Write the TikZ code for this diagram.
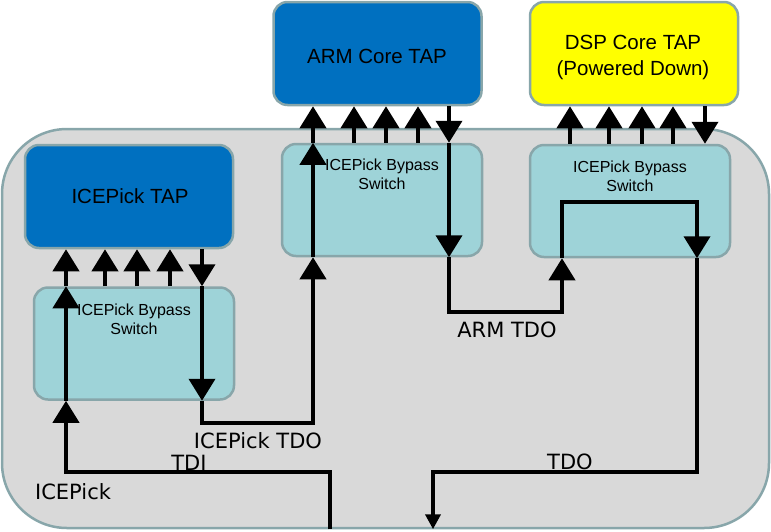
\documentclass[tikz,border=0pt]{standalone}
\usepackage{fontspec}
\setmainfont{Liberation Sans}
\newfontfamily\lblfont{DejaVu Sans}
\usetikzlibrary{arrows.meta}
\definecolor{tapblue}{HTML}{0070C0}
\definecolor{dspyel}{HTML}{FFFF00}
\definecolor{swc}{HTML}{9ED3D8}
\definecolor{bgc}{HTML}{D9D9D9}
\definecolor{edgec}{HTML}{88A6AA}
\tikzset{
 box/.style={draw=edgec, line width=2.5pt, rounded corners=14pt, inner sep=0pt},
 tapbox/.style={box, minimum width=208pt, minimum height=103pt},
 swbox/.style={box, fill=swc, minimum width=200pt, minimum height=112pt},
 arr/.style={line width=4pt, -{Triangle[width=26pt 0 0,length=22pt 0 0]}},
 smallarr/.style={line width=4pt, -{Triangle[width=15pt 0 0,length=15pt 0 0]}},
 lbl/.style={font=\lblfont\fontsize{21}{24}\selectfont, inner sep=0pt, anchor=base},
 titletxt/.style={font=\fontsize{20.5}{24}\selectfont, inner sep=0pt, anchor=base},
 swtxt/.style={font=\fontsize{16}{19}\selectfont, inner sep=0pt, anchor=base},
}
\begin{document}
\begin{tikzpicture}[x=1pt,y=-1pt]
\useasboundingbox (0,0) rectangle (771,531);
% chip background
\node[draw=edgec, fill=bgc, line width=2.5pt, rounded corners=65pt, inner sep=0pt,
      minimum width=767pt, minimum height=399pt] (chip) at (385.5,328.5) {};
% TAPs
\node[tapbox, fill=tapblue] (icetap) at (129,196.5) {};
\node[titletxt] (icetapt) at (130,203) {ICEPick TAP};
\node[tapbox, fill=tapblue] (armtap) at (377.5,53.5) {};
\node[titletxt] (armtapt) at (377,63) {ARM Core TAP};
\node[tapbox, fill=dspyel] (dsptap) at (634,53.5) {};
\node[titletxt] (dsptapt1) at (633,49) {DSP Core TAP};
\node[titletxt] (dsptapt2) at (633,75) {(Powered Down)};
% bypass switches
\node[swbox] (sw1) at (134,343.5) {};
\node[swtxt] (sw1a) at (134,315) {ICEPick Bypass};
\node[swtxt] (sw1b) at (134,334) {Switch};
\node[swbox] (sw2) at (382,200) {};
\node[swtxt] (sw2a) at (382,170) {ICEPick Bypass};
\node[swtxt] (sw2b) at (382,189) {Switch};
\node[swbox] (sw3) at (630,201) {};
\node[swtxt] (sw3a) at (630,172) {ICEPick Bypass};
\node[swtxt] (sw3b) at (630,191) {Switch};
% columns and rows
\foreach \c in {66,105,137,170,202,313,330,354,386,418,433,449,562,570,609,642,673,697,705}
  \coordinate (x\c) at (\c,0);
\coordinate (tdiy) at (0,472);
\coordinate (itdoy) at (0,423);
\coordinate (atdoy) at (0,312);
\coordinate (inny) at (0,202);
\coordinate (tdoy) at (0,472);
% TDI path
\draw[arr] (x330 |- chip.south) -- (x330 |- tdiy) -- (x66 |- tdiy) -- (x66 |- sw1.south);
\draw[arr] (x66 |- sw1.south) -- (x66 |- sw1.north);
\draw[arr] (x66 |- sw1.north) -- (x66 |- icetap.south);
\foreach \c in {x105,x137,x170}
  \draw[arr] (\c |- sw1.north) -- (\c |- icetap.south);
\draw[arr] (x202 |- icetap.south) -- (x202 |- sw1.north);
\draw[arr] (x202 |- sw1.north) -- (x202 |- sw1.south);
% ICEPick TDO
\draw[arr] (x202 |- sw1.south) -- (x202 |- itdoy) -- (x313 |- itdoy) -- (x313 |- sw2.south);
\draw[arr] (x313 |- sw2.south) -- (x313 |- sw2.north);
\draw[arr] (x313 |- sw2.north) -- (x313 |- armtap.south);
\foreach \c in {x354,x386,x418}
  \draw[arr] (\c |- sw2.north) -- (\c |- armtap.south);
\draw[arr] (x449 |- armtap.south) -- (x449 |- sw2.north);
\draw[arr] (x449 |- sw2.north) -- (x449 |- sw2.south);
% ARM TDO
\draw[arr] (x449 |- sw2.south) -- (x449 |- atdoy) -- (x562 |- atdoy) -- (x562 |- sw3.south);
\draw[arr] (x562 |- sw3.south) -- (x562 |- inny) -- (x697 |- inny) -- (x697 |- sw3.south);
\foreach \c in {x570,x609,x642,x673}
  \draw[arr] (\c |- sw3.north) -- (\c |- dsptap.south);
\draw[arr] (x705 |- dsptap.south) -- (x705 |- sw3.north);
% TDO
\draw[smallarr] (x697 |- sw3.south) -- (x697 |- tdoy) -- (x433 |- tdoy) -- (x433 |- chip.south);
% labels
\node[lbl] (l1) at (258,448) {ICEPick TDO};
\node[lbl] (l2) at (189,470) {TDI};
\node[lbl] (l3) at (73,499) {ICEPick};
\node[lbl] (l4) at (570,469) {TDO};
\node[lbl] (l5) at (507,337) {ARM TDO};
\end{tikzpicture}
\end{document}
